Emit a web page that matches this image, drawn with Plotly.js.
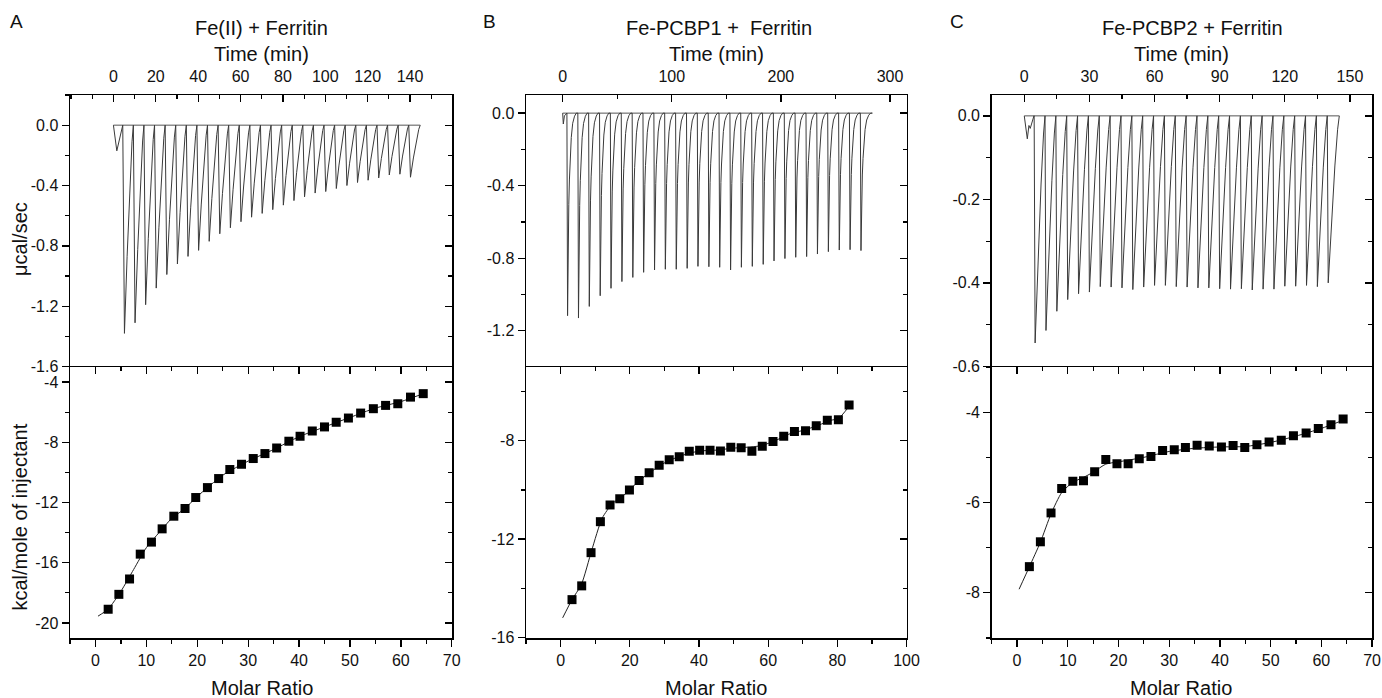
<!DOCTYPE html>
<html>
<head>
<meta charset="utf-8">
<script src="https://cdn.plot.ly/plotly-3.0.1.min.js"></script>
<style>html,body{margin:0;padding:0;background:#fff;}#chart{width:1382px;height:698px;}</style>
</head>
<body>
<div id="chart"></div>
<script>
// ---------------- DATA ----------------
// Panel A: Fe(II) + Ferritin
const A_PRE_T = [0, 1.6, 4.4];
const A_PRE_V = [0, -0.17, 0];
const A_PEAK_T = [5.2,10.2,15.2,20.2,25.2,30.2,35.2,40.2,45.2,50.2,55.2,60.2,65.2,70.2,75.2,80.2,85.2,90.2,95.2,100.2,105.2,110.2,115.2,120.2,125.2,130.2,135.2,140.2];
const A_PEAK_V = [-1.38,-1.31,-1.19,-1.08,-0.99,-0.92,-0.87,-0.83,-0.77,-0.72,-0.68,-0.64,-0.61,-0.585,-0.56,-0.53,-0.50,-0.475,-0.45,-0.44,-0.42,-0.40,-0.38,-0.365,-0.35,-0.33,-0.325,-0.345];
const A_END_T = 144.8;
const A_MR = [2.5,4.6,6.7,8.8,11.0,13.1,15.4,17.6,19.7,22.0,24.2,26.4,28.7,31.0,33.3,35.6,38.0,40.2,42.6,45.0,47.3,49.7,52.1,54.6,57.0,59.4,61.9,64.4];
const A_HEAT = [-19.09,-18.10,-17.08,-15.43,-14.63,-13.75,-12.91,-12.40,-11.67,-11.01,-10.41,-9.81,-9.46,-9.08,-8.75,-8.38,-7.93,-7.60,-7.25,-6.98,-6.67,-6.39,-6.06,-5.77,-5.55,-5.44,-5.00,-4.77];
const A_FIT_MR = [0.5,2.5,5,7.5,10,12.5,15,17.5,20,25,30,35,40,45,50,55,60,65];
const A_FIT_HEAT = [-19.55,-19.08,-17.9,-16.45,-15.0,-14.0,-13.05,-12.42,-11.6,-10.19,-9.25,-8.48,-7.63,-6.98,-6.35,-5.73,-5.3,-4.7];

// Panel B: Fe-PCBP1 + Ferritin
const B_PRE_T = [0, 0.6, 1.6, 3.4];
const B_PRE_V = [0, -0.06, -0.015, 0];
const B_PEAK_T = [4.5,14.5,24.4,34.4,44.3,54.3,64.3,74.2,84.2,94.1,104.1,114.1,124.0,134.0,143.9,153.9,163.8,173.8,183.8,193.7,203.7,213.6,223.6,233.5,243.5,253.5,263.4,273.4];
const B_PEAK_V = [-1.117,-1.13,-1.066,-1.007,-0.966,-0.929,-0.906,-0.878,-0.865,-0.861,-0.861,-0.856,-0.845,-0.847,-0.850,-0.865,-0.850,-0.845,-0.834,-0.815,-0.802,-0.795,-0.791,-0.777,-0.764,-0.755,-0.753,-0.758];
const B_END_T = 283.8;
const B_MR = [3.3,6.1,8.8,11.5,14.3,17.1,19.9,22.7,25.6,28.5,31.4,34.3,37.2,40.2,43.2,46.2,49.2,52.2,55.3,58.3,61.4,64.5,67.6,70.8,73.9,77.1,80.3,83.4];
const B_HEAT = [-14.46,-13.90,-12.55,-11.29,-10.61,-10.36,-10.0,-9.62,-9.30,-9.0,-8.77,-8.65,-8.43,-8.39,-8.39,-8.42,-8.26,-8.28,-8.43,-8.22,-8.03,-7.82,-7.62,-7.59,-7.39,-7.17,-7.15,-6.55];
const B_FIT_MR = [0.6,3.3,6,9,12,15,18,21,25,30,35,40,45,50,55,58,62,66,70,74,78,80.3,83.4];
const B_FIT_HEAT = [-15.2,-14.46,-13.85,-12.45,-11.15,-10.55,-10.25,-9.85,-9.37,-8.9,-8.6,-8.42,-8.38,-8.3,-8.25,-8.2,-8.0,-7.73,-7.58,-7.4,-7.17,-7.1,-6.6];

// Panel C: Fe-PCBP2 + Ferritin
const C_PRE_T = [0, 1.4, 2.15, 2.75, 4.45];
const C_PRE_V = [0, -0.055, -0.023, -0.03, 0];
const C_PEAK_T = [5,10,15,20,25,30,35,40,45,50,55,60,65,70,75,80,85,90,95,100,105,110,115,120,125,130,135,140];
const C_PEAK_V = [-0.544,-0.514,-0.468,-0.440,-0.426,-0.422,-0.409,-0.410,-0.412,-0.416,-0.410,-0.406,-0.406,-0.409,-0.410,-0.412,-0.412,-0.414,-0.415,-0.414,-0.417,-0.415,-0.415,-0.408,-0.408,-0.406,-0.409,-0.400];
const C_END_T = 145.1;
const C_MR = [2.43,4.6,6.7,8.8,11.0,13.1,15.3,17.5,19.7,21.9,24.1,26.4,28.7,31.0,33.2,35.5,37.9,40.3,42.6,44.9,47.3,49.7,52.1,54.5,57.0,59.4,61.9,64.3];
const C_HEAT = [-7.42,-6.87,-6.23,-5.69,-5.53,-5.52,-5.32,-5.05,-5.14,-5.14,-5.03,-4.98,-4.85,-4.83,-4.78,-4.73,-4.75,-4.77,-4.74,-4.78,-4.72,-4.66,-4.62,-4.52,-4.46,-4.36,-4.28,-4.15];
const C_FIT_MR = [0.4,2.4,4.6,6.7,8.8,11,13,15,17.5,20,25,30,35,40,45,50,55,60,64.5];
const C_FIT_HEAT = [-7.92,-7.43,-6.88,-6.25,-5.78,-5.55,-5.45,-5.33,-5.15,-5.1,-5.0,-4.87,-4.8,-4.77,-4.76,-4.67,-4.53,-4.36,-4.17];

// Tick labels
const A_TIME_TICKS = [0,20,40,60,80,100,120,140];
const A_RAW_TICKS = [0,-0.4,-0.8,-1.2,-1.6];
const A_RAW_LABELS = ['0.0','-0.4','-0.8','-1.2','-1.6'];
const A_MR_TICKS = [0,10,20,30,40,50,60,70];
const A_HEAT_TICKS = [-4,-8,-12,-16,-20];
const B_TIME_TICKS = [0,100,200,300];
const B_RAW_TICKS = [0,-0.4,-0.8,-1.2];
const B_RAW_LABELS = ['0.0','-0.4','-0.8','-1.2'];
const B_MR_TICKS = [0,20,40,60,80,100];
const B_HEAT_TICKS = [-8,-12,-16];
const C_TIME_TICKS = [0,30,60,90,120,150];
const C_RAW_TICKS = [0,-0.2,-0.4,-0.6];
const C_RAW_LABELS = ['0.0','-0.2','-0.4','-0.6'];
const C_MR_TICKS = [0,10,20,30,40,50,60,70];
const C_HEAT_TICKS = [-4,-6,-8];

// ---------------- RENDERING ----------------
const FONT = 'Liberation Sans, Arial, Helvetica, sans-serif';
const W = 1382, H = 698;
const TICK_SIZE = 16;

function seq(a, b, s) { const o = []; for (let v = a; v <= b + 1e-9; v += s) o.push(+v.toFixed(6)); return o; }
function lbl(arr) { return arr.map(v => String(v)); }

// build the raw thermogram trace from injection peaks (shape profile is styling)
function rawTrace(preT, preV, peakT, peakV, endT, drop, profU, profF) {
  const x = preT.slice(), y = preV.slice();
  for (let i = 0; i < peakT.length; i++) {
    x.push(peakT[i] - drop); y.push(0);
    x.push(peakT[i]); y.push(peakV[i]);
    const stop = i < peakT.length - 1 ? peakT[i + 1] - drop : endT;
    for (let k = 1; k < profU.length; k++) {
      x.push(peakT[i] + profU[k] * (stop - peakT[i]));
      y.push(peakV[i] * profF[k]);
    }
  }
  return {x, y};
}

const LIN_U = [0, 0.3, 0.6, 0.85, 1], LIN_F = [1, 0.63, 0.3, 0.08, 0];
const EXP_U = [0, 0.03, 0.07, 0.12, 0.18, 0.26, 0.36, 0.5, 0.68, 0.85, 1];
const EXP_F = [1, 0.78, 0.6, 0.45, 0.33, 0.22, 0.12, 0.05, 0.015, 0, 0];

const panels = [
  {pre:[A_PRE_T,A_PRE_V], pk:[A_PEAK_T,A_PEAK_V], end:A_END_T, drop:0.8, prof:[LIN_U,LIN_F],
   mr:A_MR, heat:A_HEAT, fmr:A_FIT_MR, fheat:A_FIT_HEAT,
   xd:[70,452], tr:[-20.5,159.8], tt:A_TIME_TICKS, tminor:10,
   rr:[-1.603,0.2], rt:A_RAW_TICKS, rl:A_RAW_LABELS, rminor:0.2,
   mrr:[-5,70.05], mt:A_MR_TICKS, mminor:5,
   hr:[-21,-3], ht:A_HEAT_TICKS, hminor:2},
  {pre:[B_PRE_T,B_PRE_V], pk:[B_PEAK_T,B_PEAK_V], end:B_END_T, drop:0.6, prof:[EXP_U,EXP_F],
   mr:B_MR, heat:B_HEAT, fmr:B_FIT_MR, fheat:B_FIT_HEAT,
   xd:[526,906.7], tr:[-33.6,315.3], tt:B_TIME_TICKS, tminor:50,
   rr:[-1.4,0.1], rt:B_RAW_TICKS, rl:B_RAW_LABELS, rminor:0.2,
   mrr:[-10,100.05], mt:B_MR_TICKS, mminor:10,
   hr:[-16.02,-5], ht:B_HEAT_TICKS, hminor:2},
  {pre:[C_PRE_T,C_PRE_V], pk:[C_PEAK_T,C_PEAK_V], end:C_END_T, drop:0.45, prof:[LIN_U,LIN_F],
   mr:C_MR, heat:C_HEAT, fmr:C_FIT_MR, fheat:C_FIT_HEAT,
   xd:[991.7,1372.3], tr:[-15,160.3], tt:C_TIME_TICKS, tminor:15,
   rr:[-0.6015,0.05], rt:C_RAW_TICKS, rl:C_RAW_LABELS, rminor:0.1,
   mrr:[-5,70.05], mt:C_MR_TICKS, mminor:5,
   hr:[-9,-3], ht:C_HEAT_TICKS, hminor:1}
];

const TOP_Y = [1 - 367 / H, 1 - 95 / H];
const BOT_Y = [1 - 638 / H, 1 - 367 / H];

const data = [];
const layout = {
  width: W, height: H, autosize: false,
  margin: {l: 0, r: 0, t: 0, b: 0, pad: 0},
  paper_bgcolor: '#fff', plot_bgcolor: 'rgba(0,0,0,0)',
  showlegend: false, hovermode: false,
  font: {family: FONT, size: TICK_SIZE, color: '#111'},
  annotations: []
};

function axis(o) {
  const base = {
    showline: true, linecolor: '#000', linewidth: 1.5, showgrid: false, zeroline: false,
    ticks: 'outside', ticklen: 7, tickwidth: 1.3, tickcolor: '#000',
    tickfont: {family: FONT, size: TICK_SIZE, color: '#111'}, fixedrange: true,
    autorange: false, tickmode: 'array'
  };
  return Object.assign(base, o);
}
function minor(dir, r, step) {
  return {ticks: dir, ticklen: 4, tickwidth: 1.2, tickcolor: '#000', tickmode: 'array',
          tickvals: seq(Math.ceil(Math.min(r[0], r[1]) / step) * step, Math.max(r[0], r[1]), step), showgrid: false};
}

panels.forEach((p, i) => {
  const xi = 3 * i, yi = 4 * i;
  const xT = 'x' + (xi + 1), xB = 'x' + (xi + 2), xBT = 'x' + (xi + 3);
  const yT = 'y' + (yi + 1), yTR = 'y' + (yi + 2), yB = 'y' + (yi + 3), yBR = 'y' + (yi + 4);
  const n = s => s.replace('x', 'xaxis').replace('y', 'yaxis');
  const xd = [p.xd[0] / W, p.xd[1] / W];

  // top thermogram
  const rt = rawTrace(p.pre[0], p.pre[1], p.pk[0], p.pk[1], p.end, p.drop, p.prof[0], p.prof[1]);
  data.push({type: 'scatter', mode: 'lines', x: [0, p.end], y: [0, 0], xaxis: xT, yaxis: yT,
             line: {color: '#555', width: 1}, hoverinfo: 'skip'});
  data.push({type: 'scatter', mode: 'lines', x: rt.x, y: rt.y, xaxis: xT, yaxis: yT,
             line: {color: '#3a3a3a', width: 1}, hoverinfo: 'skip'});
  data.push({type: 'scatter', x: [null], y: [null], xaxis: xT, yaxis: yTR, hoverinfo: 'skip'});

  // bottom isotherm
  data.push({type: 'scatter', mode: 'lines', x: p.fmr, y: p.fheat, xaxis: xB, yaxis: yB,
             line: {color: '#222', width: 1, shape: 'spline', smoothing: 0.6}, hoverinfo: 'skip'});
  data.push({type: 'scatter', mode: 'markers', x: p.mr, y: p.heat, xaxis: xB, yaxis: yB,
             marker: {symbol: 'square', size: 9, color: '#000', line: {width: 0}}, hoverinfo: 'skip'});
  data.push({type: 'scatter', x: [null], y: [null], xaxis: xBT, yaxis: yB, hoverinfo: 'skip'});
  data.push({type: 'scatter', x: [null], y: [null], xaxis: xB, yaxis: yBR, hoverinfo: 'skip'});

  layout[n(xT)] = axis({domain: xd, anchor: yT, side: 'top', range: p.tr, tickvals: p.tt, ticktext: lbl(p.tt),
                        ticks: 'inside', minor: minor('inside', p.tr, p.tminor), ticklabelstandoff: 5});
  layout[n(yT)] = axis({domain: TOP_Y, anchor: xT, range: p.rr, tickvals: p.rt, ticktext: p.rl,
                        minor: minor('outside', p.rr, p.rminor)});
  layout[n(yTR)] = axis({domain: TOP_Y, anchor: xT, overlaying: yT, side: 'right', range: p.rr, tickvals: p.rt,
                         showticklabels: false, ticks: 'inside', minor: minor('inside', p.rr, p.rminor)});
  layout[n(xB)] = axis({domain: xd, anchor: yB, range: p.mrr, tickvals: p.mt, ticktext: lbl(p.mt),
                        minor: minor('outside', p.mrr, p.mminor)});
  layout[n(xBT)] = axis({domain: xd, anchor: yB, overlaying: xB, side: 'top', range: p.mrr, tickvals: p.mt,
                         showticklabels: false, ticks: 'inside', minor: minor('inside', p.mrr, p.mminor)});
  layout[n(yB)] = axis({domain: BOT_Y, anchor: xB, range: p.hr, tickvals: p.ht, ticktext: lbl(p.ht),
                        minor: minor('outside', p.hr, p.hminor)});
  layout[n(yBR)] = axis({domain: BOT_Y, anchor: xB, overlaying: yB, side: 'right', range: p.hr, tickvals: p.ht,
                         showticklabels: false, ticks: 'inside', minor: minor('inside', p.hr, p.hminor)});
});

function ann(text, px, py, size, rot) {
  layout.annotations.push({text: text, xref: 'paper', yref: 'paper', x: px / W, y: 1 - py / H,
    xanchor: 'center', yanchor: 'middle', showarrow: false, textangle: rot || 0,
    font: {family: FONT, size: size, color: '#111'}});
}
ann('A', 16.5, 21, 19);
ann('B', 489, 21, 19);
ann('C', 956.5, 21, 19);
ann('Fe(II) + Ferritin', 261.7, 28, 20);
ann('Fe-PCBP1 +  Ferritin', 719, 28, 20);
ann('Fe-PCBP2 + Ferritin', 1192.5, 28, 20);
ann('Time (min)', 261.7, 54, 20);
ann('Time (min)', 716.7, 54, 20);
ann('Time (min)', 1181.7, 54, 20);
ann('Molar Ratio', 261.5, 688, 20);
ann('Molar Ratio', 716.3, 688, 20);
ann('Molar Ratio', 1181.3, 688, 20);
ann('μcal/sec', 20, 239, 20, -90);
ann('kcal/mole of injectant', 19.5, 517, 20, -90);

Plotly.newPlot('chart', data, layout, {staticPlot: true, displayModeBar: false});
</script>
</body>
</html>
